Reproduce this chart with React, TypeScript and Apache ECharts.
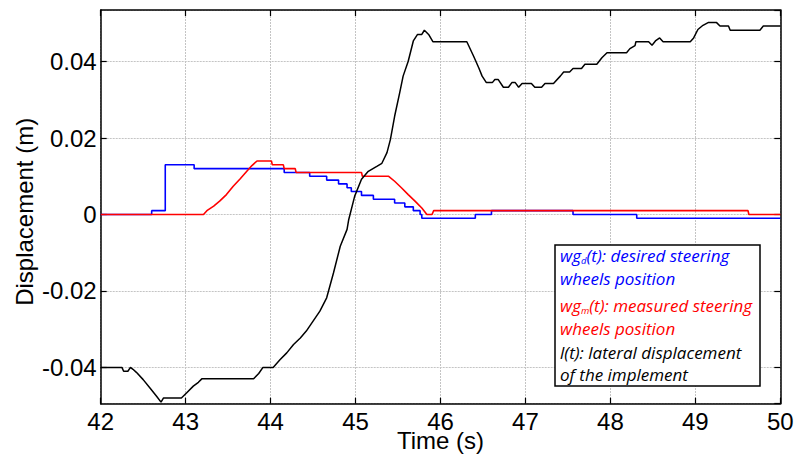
import React, { useEffect, useRef } from "react";
import * as echarts from "echarts";

// Time (s) ticks and displacement (m) data
const timeTicks = [42, 43, 44, 45, 46, 47, 48, 49, 50];
const yTickLabels = ["-0.04", "-0.02", "0", "0.02", "0.04"];

// wg_d(t): desired steering wheels position (step changes: value from t onward)
const desiredSteering: [number, number][] = [
  [42, 0], [42.6, 0.001], [42.76, 0.013], [43.1, 0.012], [44.16, 0.011],
  [44.46, 0.01], [44.66, 0.009], [44.8, 0.008], [44.9, 0.007], [44.95, 0.006],
  [45.07, 0.005], [45.21, 0.004], [45.46, 0.003], [45.58, 0.002], [45.68, 0.001],
  [45.76, 0], [45.78, -0.001], [46.41, 0], [46.6, 0.001], [47.56, 0],
  [48.31, -0.001], [50, -0.001],
];

// wg_m(t): measured steering wheels position
const measuredSteering: [number, number][] = [
  [42, 0], [43.21, 0], [43.25, 0.001], [43.33, 0.0022], [43.4, 0.0035],
  [43.48, 0.0052], [43.56, 0.0074], [43.64, 0.0093], [43.72, 0.0113],
  [43.78, 0.0128], [43.84, 0.014], [44.01, 0.014], [44.02, 0.013],
  [44.15, 0.013], [44.16, 0.012], [44.29, 0.012], [44.3, 0.011],
  [45.07, 0.011], [45.08, 0.01], [45.39, 0.01], [45.46, 0.0087],
  [45.54, 0.007], [45.62, 0.0052], [45.7, 0.0035], [45.78, 0.0017],
  [45.84, 0], [45.9, 0], [45.92, 0.001], [49.62, 0.001], [49.63, 0], [50, 0],
];

// l(t): lateral displacement of the implement
const lateralDisplacement: [number, number][] = [
  [42, -0.04], [42.25, -0.04], [42.27, -0.041], [42.32, -0.041], [42.35, -0.04],
  [42.38, -0.0405], [42.42, -0.0413], [42.5, -0.0432], [42.58, -0.0454],
  [42.66, -0.0476], [42.71, -0.0491], [42.74, -0.048], [42.95, -0.048],
  [43.01, -0.0467], [43.09, -0.0449], [43.15, -0.0439], [43.19, -0.043],
  [43.8, -0.043], [43.86, -0.0416], [43.91, -0.04], [44.03, -0.04],
  [44.11, -0.038], [44.19, -0.0362], [44.27, -0.034], [44.35, -0.0323],
  [44.42, -0.0305], [44.5, -0.0279], [44.58, -0.0253], [44.66, -0.0218],
  [44.74, -0.0153], [44.82, -0.0083], [44.9, -0.0039], [44.92, -0.0013],
  [44.99, 0.0048], [45.07, 0.0092], [45.15, 0.0113], [45.25, 0.0126],
  [45.31, 0.0134], [45.37, 0.0162], [45.41, 0.0196], [45.46, 0.0257],
  [45.52, 0.0319], [45.56, 0.0362], [45.62, 0.0401], [45.68, 0.0454],
  [45.73, 0.0471], [45.78, 0.0471], [45.81, 0.0482], [45.86, 0.0471],
  [45.91, 0.0452], [46.31, 0.0452], [46.39, 0.0414], [46.45, 0.0384],
  [46.49, 0.0362], [46.54, 0.0345], [46.61, 0.0345], [46.64, 0.0353],
  [46.68, 0.0353], [46.74, 0.0333], [46.8, 0.0333], [46.84, 0.0345],
  [46.88, 0.0345], [46.92, 0.0333], [46.96, 0.0343], [47.07, 0.0343],
  [47.11, 0.0333], [47.19, 0.0333], [47.23, 0.0343], [47.33, 0.0343],
  [47.41, 0.0362], [47.45, 0.0373], [47.52, 0.0373], [47.56, 0.0382],
  [47.66, 0.0382], [47.7, 0.0393], [47.84, 0.0393], [47.9, 0.041],
  [47.96, 0.0423], [48.19, 0.0423], [48.23, 0.0434], [48.29, 0.0442],
  [48.3, 0.0452], [48.45, 0.0452], [48.49, 0.0443], [48.53, 0.0454],
  [48.58, 0.0462], [48.62, 0.0452], [48.94, 0.0452], [48.98, 0.0462],
  [49.03, 0.0484], [49.09, 0.0495], [49.15, 0.0502], [49.25, 0.0502],
  [49.29, 0.0493], [49.39, 0.0493], [49.41, 0.0482], [49.76, 0.0482],
  [49.8, 0.0493], [50, 0.0493],
];

const legendLines = [
  { parts: ["wg", "d", "(t): desired steering"], color: "#0000ff" },
  { parts: ["wheels position"], color: "#0000ff" },
  { parts: ["wg", "m", "(t): measured steering"], color: "#ff0000" },
  { parts: ["wheels position"], color: "#ff0000" },
  { parts: ["l(t): lateral displacement"], color: "#000000" },
  { parts: ["of the implement"], color: "#000000" },
];

const AXIS_FONT = "'Liberation Sans', Arial, Helvetica, sans-serif";
const LEGEND_FONT = "'Open Sans', Lato, sans-serif";

export default function App() {
  const ref = useRef<HTMLDivElement>(null);

  useEffect(() => {
    if (!ref.current) return;
    const chart = echarts.init(ref.current, undefined, { renderer: "svg" });

    const xMin = timeTicks[0];
    const xMax = timeTicks[timeTicks.length - 1];
    const yMin = -0.0495;
    const yMax = 0.0535;

    const labelFormatter = (v: number) => {
      const s = String(Math.round(v * 100) / 100);
      return yTickLabels.includes(s) && Math.abs(v * 50 - Math.round(v * 50)) < 1e-6 ? s : "";
    };

    const gridLine = {
      show: true,
      lineStyle: { color: "#c4c4c4", width: 1, type: [2, 1] as number[] },
    };
    const axisLine = { show: true, onZero: false, lineStyle: { color: "#000", width: 1.5 } };
    const tick = { show: true, inside: true, length: 6, lineStyle: { color: "#000", width: 1.2 } };

    const legendY = [255.5, 278.5, 305, 328.5, 352.5, 374.5];
    const legendTexts = legendLines.map((ln, i) => {
      let text: string;
      if (ln.parts.length === 3) {
        text = `{m|${ln.parts[0]}}{s|${ln.parts[1]}}{m|${ln.parts[2]}}`;
      } else {
        text = `{m|${ln.parts[0]}}`;
      }
      return {
        type: "text",
        x: 560,
        y: legendY[i],
        z: 101,
        style: {
          text,
          fill: ln.color,
          align: "left",
          verticalAlign: "middle",
          rich: {
            m: {
              fontSize: 17,
              lineHeight: 20,
              fontStyle: "italic",
              fontFamily: LEGEND_FONT,
              fill: ln.color,
            },
            s: {
              fontSize: 9.5,
              lineHeight: 8,
              fontStyle: "italic",
              fontFamily: LEGEND_FONT,
              fill: ln.color,
              verticalAlign: "bottom",
            },
          },
        },
      };
    });

    chart.setOption({
      animation: false,
      backgroundColor: "#ffffff",
      grid: {
        left: 100.7,
        right: 14.7,
        top: 10,
        bottom: 55.3,
        containLabel: false,
        outerBoundsMode: "none",
      },
      xAxis: [
        {
          type: "value",
          min: xMin,
          max: xMax,
          interval: 1,
          position: "bottom",
          axisLine,
          axisTick: tick,
          axisLabel: {
            fontSize: 24,
            lineHeight: 18,
            color: "#000",
            margin: 9,
            fontFamily: AXIS_FONT,
          },
          splitLine: gridLine,
          name: "Time (s)",
          nameLocation: "middle",
          nameGap: 28,
          nameMoveOverlap: false,
          nameTextStyle: { fontSize: 24, lineHeight: 18, color: "#000", fontFamily: AXIS_FONT },
        },
        {
          type: "value",
          min: xMin,
          max: xMax,
          interval: 1,
          position: "top",
          axisLine,
          axisTick: tick,
          axisLabel: { show: false },
          splitLine: { show: false },
        },
      ],
      yAxis: [
        {
          type: "value",
          min: yMin,
          max: yMax,
          position: "left",
          axisLine,
          axisTick: tick,
          axisLabel: {
            fontSize: 24,
            color: "#000",
            margin: 4,
            fontFamily: AXIS_FONT,
            formatter: labelFormatter,
            showMinLabel: false,
            showMaxLabel: false,
          },
          splitLine: gridLine,
          name: "Displacement (m)",
          nameLocation: "middle",
          nameGap: 64,
          nameMoveOverlap: false,
          nameTextStyle: {
            fontSize: 24,
            color: "#000",
            fontFamily: AXIS_FONT,
            padding: [0, 10, 0, 0],
          },
        },
        {
          type: "value",
          min: yMin,
          max: yMax,
          position: "right",
          axisLine,
          axisTick: tick,
          axisLabel: { show: false },
          splitLine: { show: false },
        },
      ],
      series: [
        {
          name: "wg_d(t)",
          type: "line",
          data: desiredSteering,
          step: "end",
          showSymbol: false,
          symbol: "none",
          lineStyle: { color: "#0000ff", width: 1.6 },
          z: 3,
        },
        {
          name: "wg_m(t)",
          type: "line",
          data: measuredSteering,
          showSymbol: false,
          symbol: "none",
          lineStyle: { color: "#ff0000", width: 1.6 },
          z: 4,
        },
        {
          name: "l(t)",
          type: "line",
          data: lateralDisplacement,
          showSymbol: false,
          symbol: "none",
          lineStyle: { color: "#000000", width: 1.5 },
          z: 5,
        },
      ],
      graphic: [
        {
          type: "rect",
          z: 100,
          shape: { x: 555, y: 245, width: 205, height: 141 },
          style: { fill: "#ffffff", stroke: "#000000", lineWidth: 1.5 },
        },
        ...legendTexts,
      ],
    });

    return () => {
      chart.dispose();
    };
  }, []);

  return (
    <div
      ref={ref}
      style={{ position: "absolute", left: 0, top: 0, width: 795, height: 459, background: "#fff" }}
    />
  );
}
